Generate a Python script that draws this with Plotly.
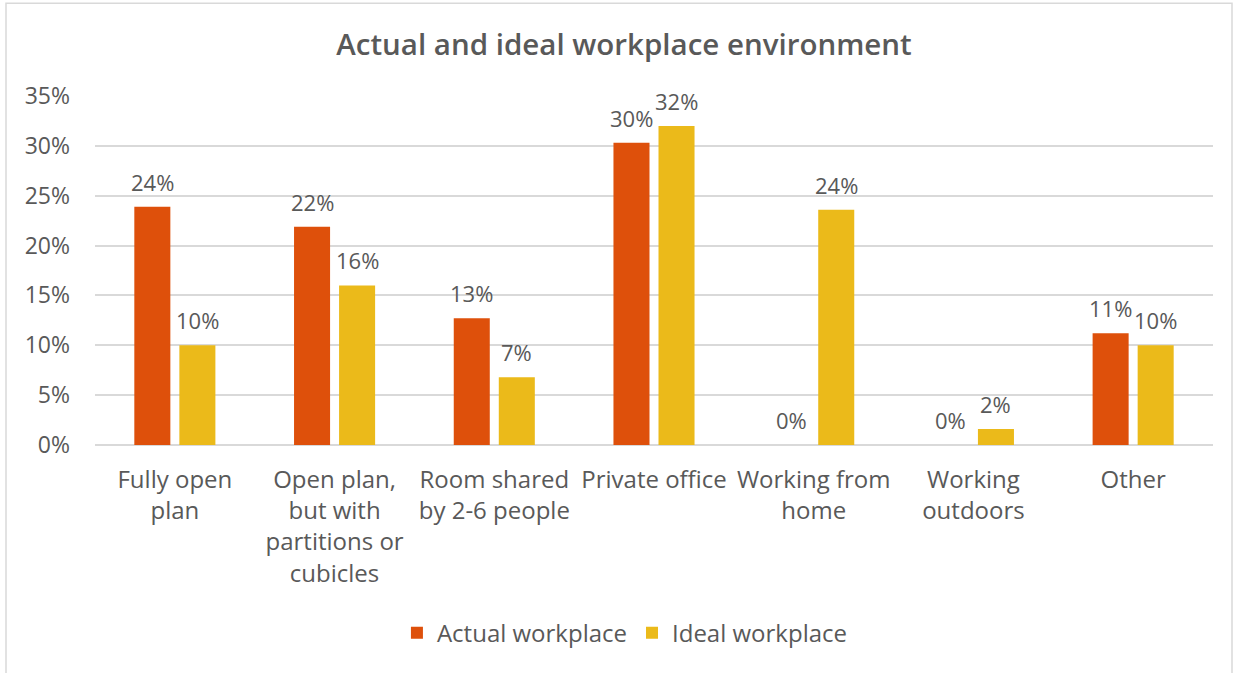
import plotly.graph_objects as go

# Workplace categories (tick labels) and survey shares
categories = [
    "Fully open<br>plan",
    "Open plan,<br>but with<br>partitions or<br>cubicles",
    "Room shared<br>by 2-6 people",
    "Private office",
    "Working from<br>home",
    "Working<br>outdoors",
    "Other",
]
actual_workplace = [0.239, 0.219, 0.127, 0.303, 0.0, 0.0, 0.112]
ideal_workplace = [0.100, 0.160, 0.068, 0.320, 0.236, 0.016, 0.100]

y_ticks = [0, 0.05, 0.10, 0.15, 0.20, 0.25, 0.30, 0.35]

TEXT = "#595959"
FONT = "Open Sans"
ORANGE = "#DE500B"
YELLOW = "#EBBA1A"

fig = go.Figure()
fig.add_trace(go.Bar(name="Actual workplace", x=categories, y=actual_workplace,
                     marker=dict(color=ORANGE, line=dict(width=0))))
fig.add_trace(go.Bar(name="Ideal workplace", x=categories, y=ideal_workplace,
                     marker=dict(color=YELLOW, line=dict(width=0))))

# Value labels above each bar, offset to the left/right bar of each group
for values, shift in ((actual_workplace, -22.5), (ideal_workplace, 22.5)):
    for cat, v in zip(categories, values):
        fig.add_annotation(x=cat, y=v, xref="x", yref="y", text=f"{v:.0%}",
                           showarrow=False, xshift=shift, yshift=25,
                           yanchor="middle", xanchor="center",
                           font=dict(family=FONT, size=22, color=TEXT))

# Light frame around the whole chart
fig.add_shape(type="rect", xref="paper", yref="paper",
              x0=-0.0796, x1=1.017, y0=-0.66, y1=1.266,
              line=dict(color="#D9D9D9", width=1.5), fillcolor="rgba(0,0,0,0)",
              layer="below")

fig.update_layout(
    width=1243, height=673,
    margin=dict(l=95, r=30, t=96, b=228),
    paper_bgcolor="white", plot_bgcolor="white",
    barmode="group", bargap=0.436, bargroupgap=0.2,
    font=dict(family=FONT, color=TEXT, size=24),
    title=dict(text="Actual and ideal workplace environment",
               x=0.502, xref="container", xanchor="center",
               y=1 - 45 / 673, yref="container", yanchor="middle",
               font=dict(family=FONT, size=29.5, color=TEXT, weight=600)),
    legend=dict(orientation="h", x=0.474, xanchor="center",
                y=-0.539, yanchor="middle",
                font=dict(family=FONT, size=24, color=TEXT),
                itemwidth=30, traceorder="normal"),
    xaxis=dict(showline=False, ticks="", ticklabelstandoff=18,
               tickfont=dict(family=FONT, size=24, color=TEXT), tickangle=0),
    yaxis=dict(range=[0, 0.35], tickvals=y_ticks, tickformat=".0%",
               showgrid=True, gridcolor="#D9D9D9", gridwidth=1.5,
               zeroline=True, zerolinecolor="#D9D9D9", zerolinewidth=1.5,
               ticks="", ticklabelstandoff=24,
               tickfont=dict(family=FONT, size=23, color=TEXT)),
)

fig.write_html("out.html")
